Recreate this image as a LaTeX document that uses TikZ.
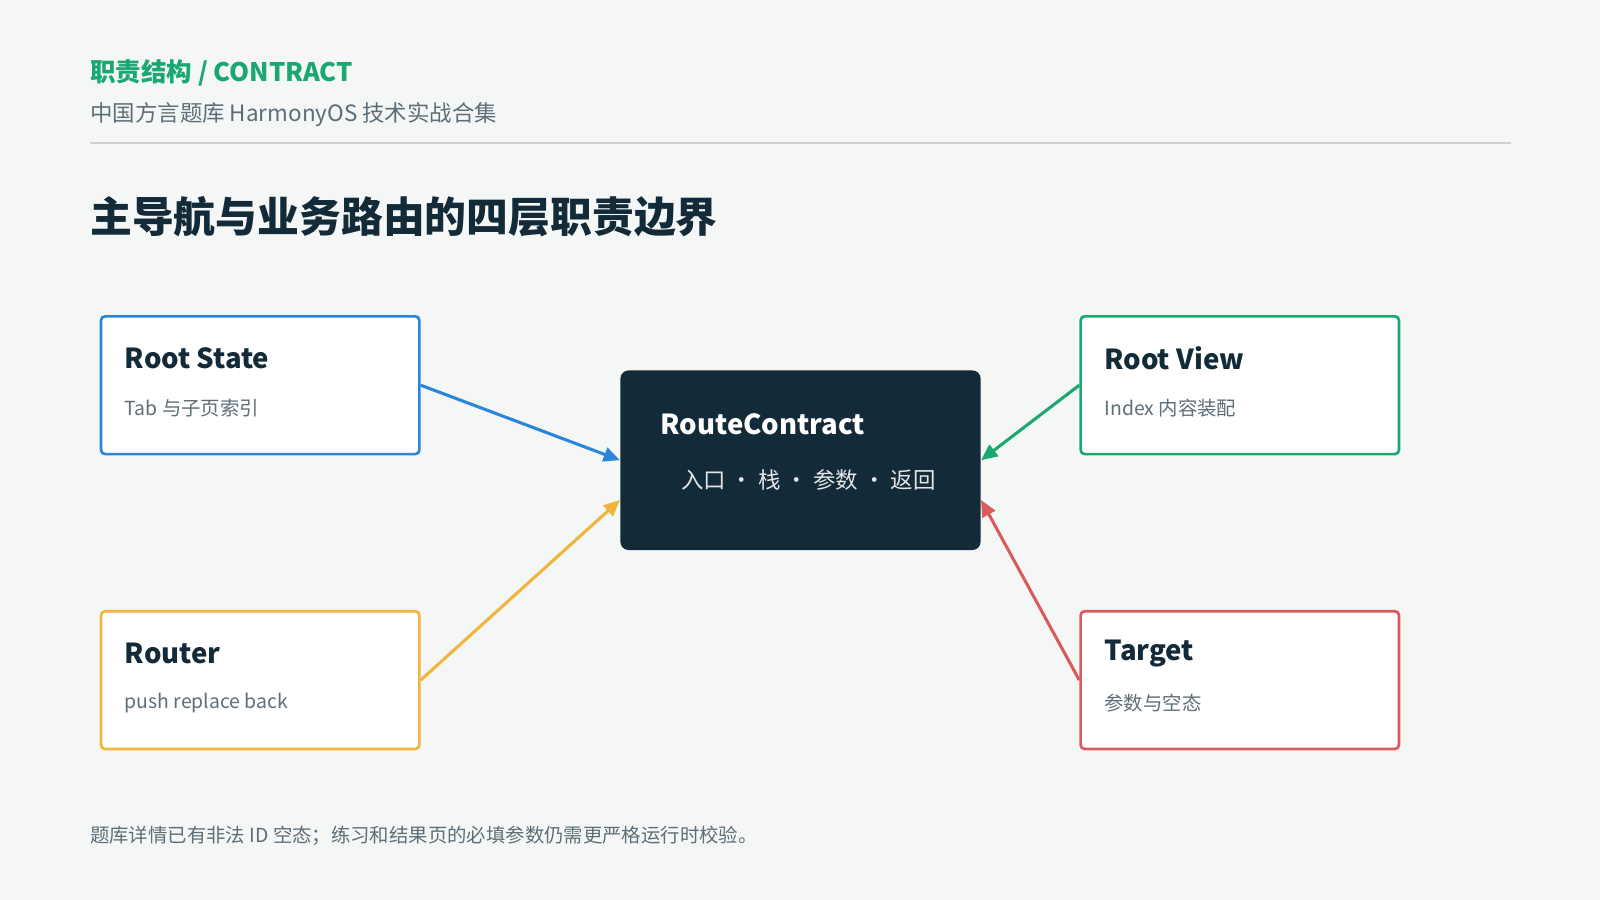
\documentclass[tikz,border=0pt]{standalone}
\usepackage{fontspec}
\setmainfont{Noto Sans CJK SC}
\usetikzlibrary{calc,arrows.meta}
\definecolor{bg}{HTML}{F4F7F6}
\definecolor{dark}{HTML}{132A38}
\definecolor{grn}{HTML}{1AA870}
\definecolor{blu}{HTML}{2B86D9}
\definecolor{yel}{HTML}{F0B63C}
\definecolor{red}{HTML}{D95B5B}
\definecolor{gry}{HTML}{5E6E78}
\tikzset{
 box/.style={draw=#1,line width=1.3pt,fill=white,rounded corners=2pt,minimum width=156pt,minimum height=67.5pt,inner sep=0},
 ttl/.style={anchor=west,text=dark,font=\fontsize{13.5}{16}\selectfont\bfseries,inner sep=0},
 sub/.style={anchor=west,text=gry,font=\fontsize{9.5}{12}\selectfont,inner sep=0},
 arr/.style={draw=#1,line width=1.5pt,-{Triangle[length=8pt,width=7pt]}},
}
\begin{document}
\begin{tikzpicture}[x=0.5pt,y=-0.5pt]
\useasboundingbox[fill=bg] (0,0) rectangle (1568,882);
\node[anchor=west,text=grn,font=\fontsize{12.5}{15}\selectfont\bfseries,inner sep=0] (h1) at (88,71) {职责结构 / CONTRACT};
\node[anchor=west,text=gry,font=\fontsize{11}{13}\selectfont,inner sep=0] (h2) at (88,112) {中国方言题库 HarmonyOS 技术实战合集};
\draw[draw=black!18,line width=0.7pt] (88,140) -- (1481,140);
\node[anchor=west,text=dark,font=\fontsize{20.5}{24}\selectfont\bfseries,inner sep=0] (t) at (88,212) {主导航与业务路由的四层职责边界};

\node[box=blu] (rs) at (255,377.5) {};
\node[box=grn] (rv) at (1215,377.5) {};
\node[box=yel] (ro) at (255,666.5) {};
\node[box=red] (tg) at (1215,666.5) {};
\node[fill=dark,rounded corners=4pt,minimum width=176.5pt,minimum height=88pt,inner sep=0] (c) at (784.5,451) {};

\node[ttl] (rs1) at (122,351) {Root State};
\node[sub] (rs2) at (122,400) {Tab 与子页索引};
\node[ttl] (rv1) at (1082,351) {Root View};
\node[sub] (rv2) at (1082,400) {Index 内容装配};
\node[ttl] (ro1) at (122,640) {Router};
\node[sub] (ro2) at (122,689) {push replace back};
\node[ttl] (tg1) at (1082,640) {Target};
\node[sub] (tg2) at (1082,689) {参数与空态};
\node[ttl,text=white] (c1) at (647,416) {RouteContract};
\node[anchor=west,text=white!88!dark,font=\fontsize{11}{13}\selectfont,inner sep=0] (c2) at (667,470) {入口 · 栈 · 参数 · 返回};

\draw[arr=blu] (rs.east) -- (c.west);
\draw[arr=grn] (rv.west) -- (c.east);
\draw[arr=yel] (ro.east) -- ($(c.west)+(0,39)$);
\draw[arr=red] (tg.west) -- ($(c.east)+(0,39)$);

\node[anchor=west,text=gry,font=\fontsize{9.5}{12}\selectfont,inner sep=0] (f) at (88,819) {题库详情已有非法 ID 空态；练习和结果页的必填参数仍需更严格运行时校验。};
\end{tikzpicture}
\end{document}
